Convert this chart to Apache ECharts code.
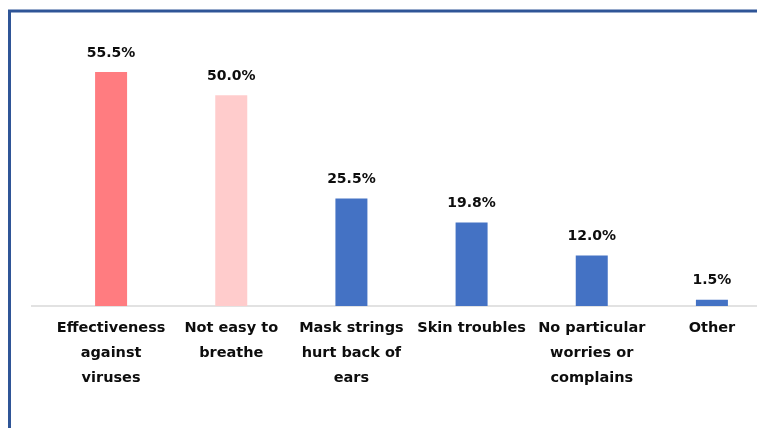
<!DOCTYPE html>
<html>
<head>
<meta charset="utf-8">
<script src="https://cdn.jsdelivr.net/npm/echarts@6/dist/echarts.min.js"></script>
<style>
  html, body { margin: 0; padding: 0; background: #fff; overflow: hidden; width: 757px; height: 428px; }
  #chart { width: 772px; height: 428px; }
</style>
</head>
<body>
<div id="chart"></div>
<script>
const categories = [
  "Effectiveness\nagainst\nviruses",
  "Not easy to\nbreathe",
  "Mask strings\nhurt back of\nears",
  "Skin troubles",
  "No particular\nworries or\ncomplains",
  "Other"
];
const values = [55.5, 50.0, 25.5, 19.8, 12.0, 1.5];
const barColors = ["#FF7C80", "#FFCCCC", "#4472C4", "#4472C4", "#4472C4", "#4472C4"];

const chart = echarts.init(document.getElementById('chart'), null, { renderer: 'canvas' });
const FONT = '"DejaVu Sans", Verdana, sans-serif';

chart.setOption({
  animation: false,
  backgroundColor: '#ffffff',
  grid: { left: 51, right: 0, top: 53, bottom: 122, containLabel: false },
  xAxis: {
    type: 'category',
    data: categories,
    axisLine: { show: false },
    axisTick: { show: false },
    axisLabel: {
      interval: 0,
      margin: 10,
      color: '#0D0D0D',
      fontFamily: FONT,
      fontWeight: 'bold',
      fontSize: 14.5,
      lineHeight: 25,
      align: 'center'
    }
  },
  yAxis: {
    type: 'value',
    min: 0,
    max: 60,
    show: false,
    splitLine: { show: false }
  },
  series: [{
    type: 'bar',
    barWidth: 32,
    data: values.map((v, i) => ({ value: v, itemStyle: { color: barColors[i] } })),
    label: {
      show: true,
      position: 'top',
      distance: 12,
      color: '#0D0D0D',
      fontFamily: FONT,
      fontWeight: 'bold',
      fontSize: 14,
      formatter: p => p.value.toFixed(1) + '%'
    }
  }],
  graphic: [
    {
      type: 'line',
      z: 1,
      shape: { x1: 31, y1: 306, x2: 772, y2: 306 },
      style: { stroke: '#D9D9D9', lineWidth: 1.5 }
    },
    {
      type: 'rect',
      z: 10,
      shape: { x: 9.5, y: 11, width: 900, height: 600 },
      style: { fill: 'none', stroke: '#2F5597', lineWidth: 3 }
    }
  ]
});
</script>
</body>
</html>
